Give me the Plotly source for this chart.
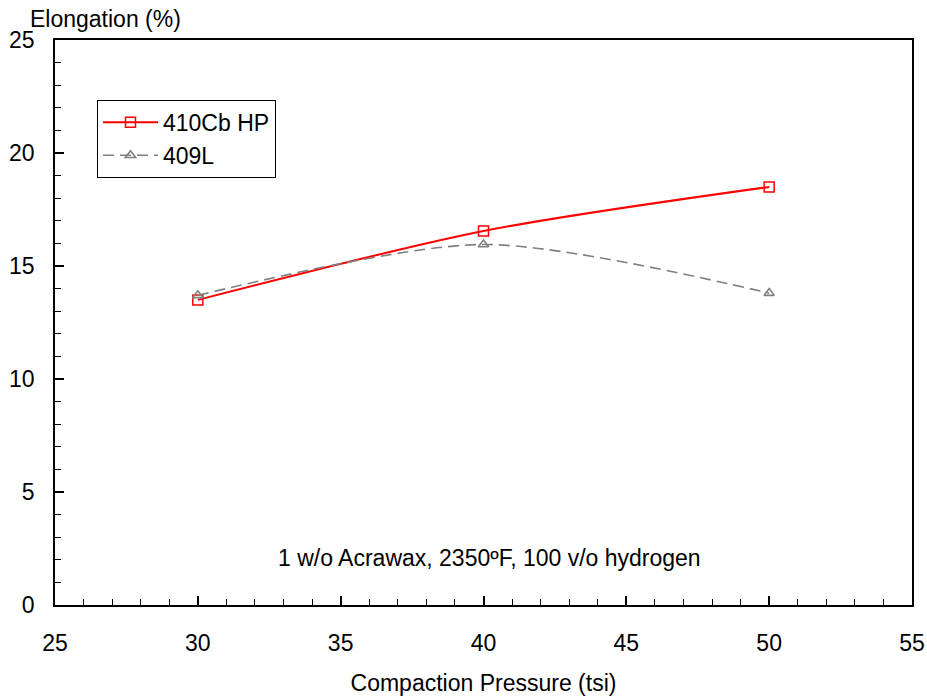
import plotly.graph_objects as go

pressure = [30, 40, 50]
hp410 = [13.5, 16.55, 18.5]
l409 = [13.7, 15.95, 13.8]
x_ticks = [25, 30, 35, 40, 45, 50, 55]
y_ticks = [0, 5, 10, 15, 20, 25]

FONT = "Liberation Sans, Arial, sans-serif"
FS = 23

fig = go.Figure()
fig.add_trace(go.Scatter(
    x=pressure, y=hp410, name="410Cb HP", mode="lines+markers",
    line=dict(color="#ff0000", width=2, shape="spline", smoothing=0.8),
    marker=dict(symbol="square-open", size=10, color="#ff0000", line=dict(width=1.5)),
))
fig.add_trace(go.Scatter(
    x=pressure, y=l409, name="409L", mode="lines+markers",
    line=dict(color="#808080", width=1.6, dash="11px,6px", shape="spline", smoothing=0.8),
    marker=dict(symbol="triangle-up-open", size=9, color="#808080", line=dict(width=1.6)),
))

axis_common = dict(
    showgrid=False, zeroline=False, showline=True, linecolor="black", linewidth=1.5,
    mirror=True, ticks="inside", ticklen=9, tickwidth=1.5, tickcolor="black",
    tickfont=dict(family=FONT, size=FS, color="black"), automargin=False,
)
fig.update_xaxes(
    range=[25, 55], tickvals=x_ticks, ticklabelstandoff=17,
    minor=dict(dtick=1, ticks="inside", ticklen=6, tickcolor="black", tickwidth=1),
    title=dict(text="Compaction Pressure (tsi)", font=dict(family=FONT, size=FS, color="black"), standoff=20),
    **axis_common,
)
fig.update_yaxes(
    range=[0, 25], tickvals=y_ticks, ticklabelstandoff=14,
    minor=dict(dtick=1, ticks="inside", ticklen=6, tickcolor="black", tickwidth=1),
    **axis_common,
)
fig.add_annotation(text="Elongation (%)", xref="paper", yref="paper", x=-0.032, y=1.0,
                   xanchor="left", yanchor="bottom", yshift=6, showarrow=False,
                   font=dict(family=FONT, size=FS, color="black"))
fig.add_annotation(text="1 w/o Acrawax, 2350ºF, 100 v/o hydrogen", x=40.2, y=2.1,
                   xref="x", yref="y", showarrow=False,
                   font=dict(family=FONT, size=FS, color="black"))
fig.update_layout(
    width=927, height=698, plot_bgcolor="white", paper_bgcolor="white",
    margin=dict(l=55, r=15, t=40, b=93),
    legend=dict(x=0.049, y=0.894, xanchor="left", yanchor="top",
                bordercolor="black", borderwidth=1, bgcolor="white",
                font=dict(family=FONT, size=FS, color="black"),
                itemwidth=55, tracegroupgap=0),
    showlegend=True,
)
fig.write_html("out.html")
